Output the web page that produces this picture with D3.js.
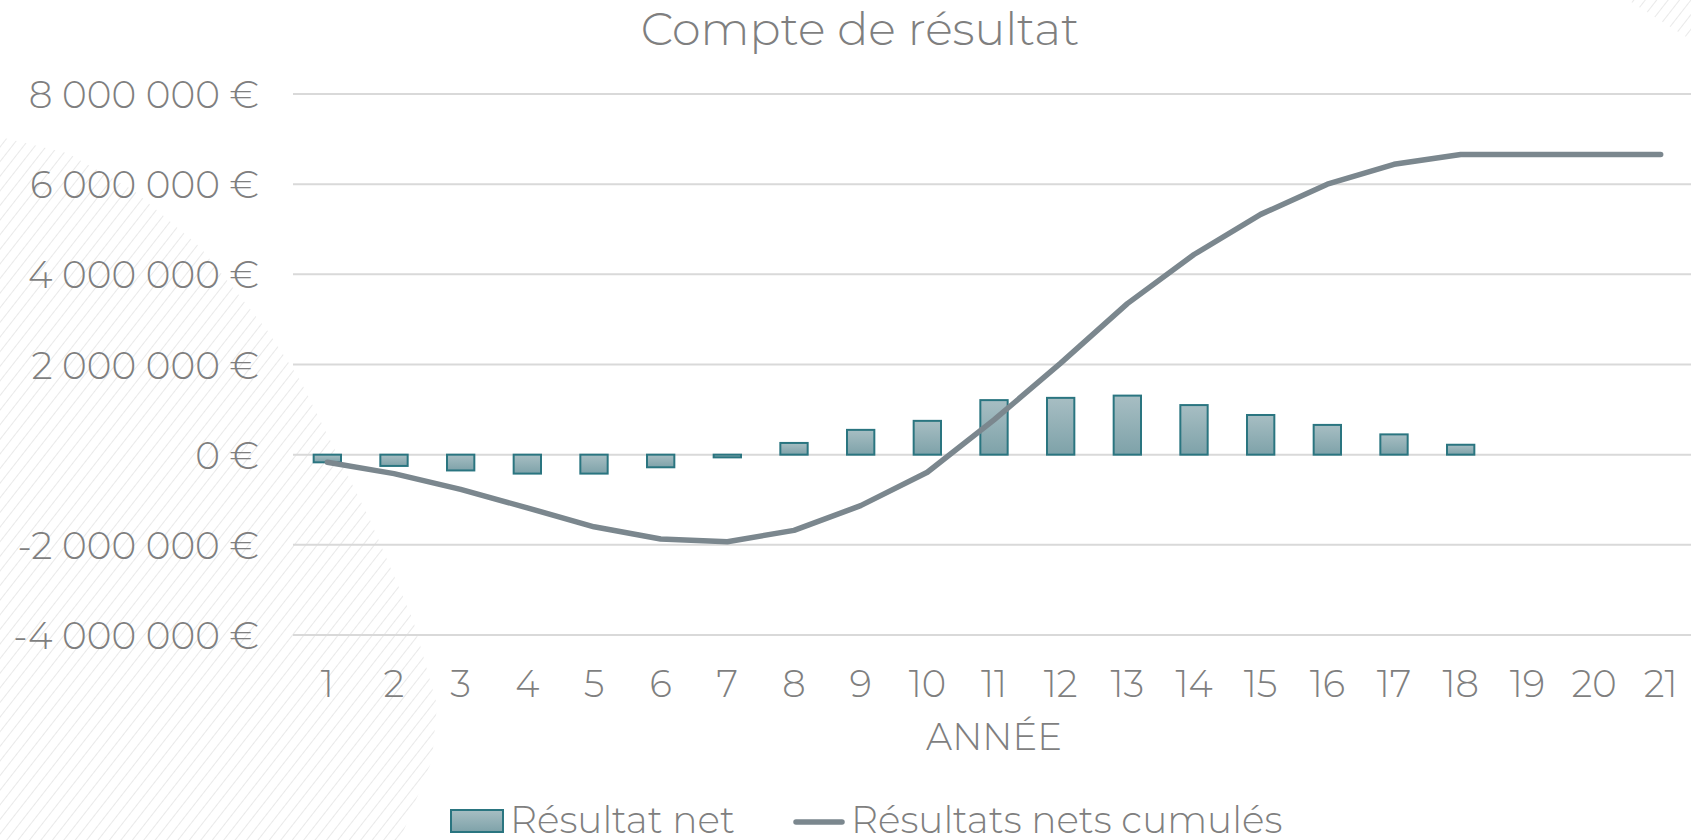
<!DOCTYPE html>
<html>
<head>
<meta charset="utf-8">
<script src="https://cdn.jsdelivr.net/npm/d3@7"></script>
<style>
  body { margin: 0; background: #fff; }
  text { font-family: Montserrat, Lato, "Open Sans", sans-serif; font-weight: 300; fill: #7f7f7f; }
</style>
</head>
<body>
<div class="chart"></div>
<script>
// années
var annees = ["1","2","3","4","5","6","7","8","9","10","11","12","13","14","15","16","17","18","19","20","21"];

// résultat net par année (€)
var resultatNet = [-170000, -250000, -350000, -420000, -420000, -280000, -60000, 260000, 550000, 750000,
                   1210000, 1260000, 1310000, 1100000, 880000, 660000, 450000, 220000, 0, 0, 0];

// résultats nets cumulés (€)
var resultatsCumules = [-170000, -420000, -770000, -1180000, -1600000, -1870000, -1930000, -1680000, -1130000, -390000,
                        770000, 2030000, 3350000, 4440000, 5330000, 6000000, 6440000, 6660000, 6660000, 6660000, 6660000];

var yTicks = [-4000000, -2000000, 0, 2000000, 4000000, 6000000, 8000000];

var width = 1691, height = 840;

var fr = d3.formatLocale({decimal: ",", thousands: "\u00a0", grouping: [3], currency: ["", "\u00a0€"], minus: "-"});
var fmt = fr.format("$,.0f");

var svg = d3.select(".chart").append("svg")
    .attr("width", width)
    .attr("height", height);

var defs = svg.append("defs");

// hachures du fond
var pat = defs.append("pattern")
    .attr("id", "hatch")
    .attr("patternUnits", "userSpaceOnUse")
    .attr("width", 9).attr("height", 9)
    .attr("patternTransform", "rotate(38)");
pat.append("line")
    .attr("x1", 0).attr("y1", 0).attr("x2", 0).attr("y2", 9)
    .attr("stroke", "#e2e2e2").attr("stroke-width", 1.5);

var grad = defs.append("linearGradient")
    .attr("id", "barGrad")
    .attr("x1", 0).attr("y1", 0).attr("x2", 0).attr("y2", 1);
grad.append("stop").attr("offset", "0%").attr("stop-color", "#a7bec3");
grad.append("stop").attr("offset", "100%").attr("stop-color", "#7ea2a9");

svg.append("path")
    .attr("d", "M0,137 L67,153 L133,190 L200,247 L267,330 L300,380 L330,440 L370,520 L413,620 L437,705 L432,760 L400,840 L0,840 Z")
    .attr("fill", "url(#hatch)");
svg.append("path")
    .attr("d", "M1628,0 L1691,0 L1691,40 Z")
    .attr("fill", "url(#hatch)");

// échelles
var x = d3.scaleBand()
    .domain(annees)
    .range([294, 1694])
    .padding(0);

var y = d3.scaleLinear()
    .domain([-4000000, 8000000])
    .range([635, 94]);

// grille
svg.append("g")
    .selectAll("line")
    .data(yTicks)
    .enter().append("line")
    .attr("x1", 293).attr("x2", width)
    .attr("y1", function(d){ return y(d); })
    .attr("y2", function(d){ return y(d); })
    .attr("stroke", "#d9d9d9")
    .attr("stroke-width", 2);

// axe y
var yAxis = svg.append("g")
    .attr("transform", "translate(259,0)")
    .call(d3.axisLeft(y).tickValues(yTicks).tickFormat(fmt).tickSize(0).tickPadding(0));
yAxis.select(".domain").remove();
yAxis.selectAll("text")
    .attr("font-size", 37.5)
    .attr("dy", "0.36em");

// axe x
var xAxis = svg.append("g")
    .attr("transform", "translate(0,658)")
    .call(d3.axisBottom(x).tickSize(0).tickPadding(0));
xAxis.select(".domain").remove();
xAxis.selectAll("text")
    .attr("font-size", 37)
    .attr("dy", "1.05em");

// barres
var bw = x.bandwidth() * 0.41;
svg.append("g")
    .selectAll("rect")
    .data(resultatNet)
    .enter().append("rect")
    .attr("x", function(d, i){ return x(annees[i]) + (x.bandwidth() - bw) / 2; })
    .attr("y", function(d){ return y(Math.max(0, d)); })
    .attr("width", bw)
    .attr("height", function(d){ return Math.abs(y(d) - y(0)); })
    .attr("fill", "url(#barGrad)")
    .attr("stroke", function(d){ return d === 0 ? "none" : "#2a7580"; })
    .attr("stroke-width", 2);

// courbe cumulée
var line = d3.line()
    .x(function(d, i){ return x(annees[i]) + x.bandwidth() / 2; })
    .y(function(d){ return y(d); });

svg.append("path")
    .datum(resultatsCumules)
    .attr("d", line)
    .attr("fill", "none")
    .attr("stroke", "#7b878e")
    .attr("stroke-width", 5.5)
    .attr("stroke-linejoin", "round")
    .attr("stroke-linecap", "round");

// titre
svg.append("text")
    .attr("x", 860).attr("y", 45)
    .attr("text-anchor", "middle")
    .attr("font-size", 46)
    .text("Compte de résultat");

svg.append("text")
    .attr("x", 994).attr("y", 750)
    .attr("text-anchor", "middle")
    .attr("font-size", 37)
    .text("ANNÉE");

// légende
var leg = svg.append("g");
leg.append("rect")
    .attr("x", 451).attr("y", 810)
    .attr("width", 52).attr("height", 22)
    .attr("fill", "url(#barGrad)")
    .attr("stroke", "#2a7580").attr("stroke-width", 2);
leg.append("text")
    .attr("x", 510).attr("y", 833)
    .attr("font-size", 37.5)
    .text("Résultat net");
leg.append("line")
    .attr("x1", 796).attr("x2", 842)
    .attr("y1", 822).attr("y2", 822)
    .attr("stroke", "#7b878e").attr("stroke-width", 5.5)
    .attr("stroke-linecap", "round");
leg.append("text")
    .attr("x", 851).attr("y", 833)
    .attr("font-size", 37.5)
    .text("Résultats nets cumulés");
</script>
</body>
</html>
